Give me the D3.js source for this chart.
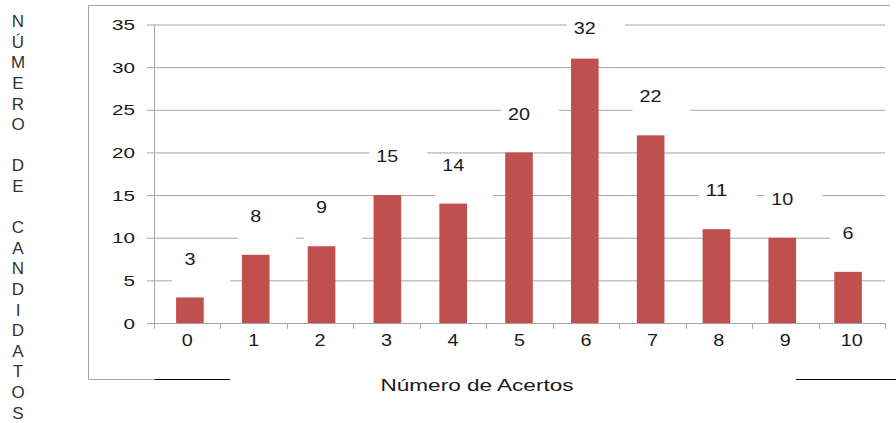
<!DOCTYPE html>
<html>
  <head>
    <meta charset="utf-8">
    <title>Número de Acertos</title>
    <style>
      body { margin: 0; background: #fff; }
      text { font-family: "Liberation Sans", Arial, sans-serif; fill: #1a1a1a; }
    </style>
  </head>
  <body>
    <div id="container"></div>
    <script src="https://d3js.org/d3.v7.min.js"></script>
    <script>

      // DATA
      var categories = ["0", "1", "2", "3", "4", "5", "6", "7", "8", "9", "10"];
      var counts = [3, 8, 9, 15, 14, 20, 31, 22, 11, 10, 6];
      var countLabels = ["3", "8", "9", "15", "14", "20", "32", "22", "11", "10", "6"];
      var yTicks = [0, 5, 10, 15, 20, 25, 30, 35];
      var yTitle = "NÚMERO DE CANDIDATOS";
      var xTitle = "Número de Acertos";

      // SIZES
      var W = 896, H = 423;
      var plot = { left: 154, right: 885, top: 24.5, bottom: 323 };

      var svg = d3.select("#container")
        .append("svg")
        .attr("width", W)
        .attr("height", H);

      svg.append("rect").attr("width", W).attr("height", H).attr("fill", "#fff");

      // outer frame (open on the right, broken bottom edge)
      var frame = svg.append("g").attr("fill", "none");
      frame.append("path")
        .attr("d", "M155,379.5 H88.5 V5.5 H890")
        .attr("stroke", "#a6a6a6");
      frame.append("line")
        .attr("x1", 155).attr("x2", 230).attr("y1", 379.5).attr("y2", 379.5)
        .attr("stroke", "#000");
      frame.append("line")
        .attr("x1", 796).attr("x2", 896).attr("y1", 379.5).attr("y2", 379.5)
        .attr("stroke", "#000");

      // SCALES
      // bars sit a little inside the tick grid, as in the original
      var x = d3.scaleBand()
        .domain(categories)
        .range([plot.left + 3, plot.right - 4])
        .paddingInner(0.58)
        .paddingOuter(0.29);

      // tick boundaries between categories
      var xTick = d3.scaleLinear()
        .domain([0, categories.length])
        .range([plot.left, plot.right]);

      var y = d3.scaleLinear()
        .domain([0, 35])
        .range([plot.bottom, plot.top]);

      // Y-AXIS with gridlines
      var yAxis = svg.append("g")
        .attr("transform", "translate(" + plot.left + ",0)")
        .call(d3.axisLeft(y)
          .tickValues(yTicks)
          .tickSize(-(plot.right - plot.left))
          .tickSizeOuter(0)
          .tickPadding(0));
      yAxis.select(".domain").remove();
      yAxis.selectAll(".tick line")
        .attr("x1", -7)
        .attr("stroke", "#a6a6a6");
      yAxis.selectAll(".tick text")
        .attr("x", -19)
        .attr("dy", "0.36em")
        .style("font-size", "14px")
        .attr("font-family", null)
        .attr("textLength", d => String(d).length * 11.5)
        .attr("lengthAdjust", "spacingAndGlyphs");

      // data label boxes (white, hide the gridlines behind the labels)
      function labelY(d) {
        return Math.max(y(d) - 39, y(35) + 3);
      }
      svg.append("g")
        .selectAll("rect")
        .data(counts)
        .enter()
        .append("rect")
        .attr("x", (d, i) => x(categories[i]) + x.bandwidth() / 2 - 18)
        .attr("y", d => labelY(d) - 10)
        .attr("width", 58)
        .attr("height", 42)
        .attr("fill", "#fff");

      // vertical axis line
      svg.append("line")
        .attr("x1", plot.left + 0.5).attr("x2", plot.left + 0.5)
        .attr("y1", plot.top).attr("y2", plot.bottom + 5)
        .attr("stroke", "#a6a6a6");

      // X-AXIS
      var xAxis = svg.append("g")
        .attr("transform", "translate(0," + plot.bottom + ")");
      xAxis.append("line")
        .attr("x1", plot.left).attr("x2", plot.right)
        .attr("y1", 0.5).attr("y2", 0.5)
        .attr("stroke", "#a6a6a6");
      xAxis.selectAll(".xtick")
        .data(d3.range(categories.length + 1))
        .enter()
        .append("line")
        .attr("class", "xtick")
        .attr("x1", i => Math.round(xTick(i)) + 0.5)
        .attr("x2", i => Math.round(xTick(i)) + 0.5)
        .attr("y1", 0)
        .attr("y2", 6)
        .attr("stroke", "#a6a6a6");
      xAxis.selectAll(".xlab")
        .data(categories)
        .enter()
        .append("text")
        .attr("class", "xlab")
        .attr("x", (d, i) => xTick(i + 0.5))
        .attr("y", 23)
        .attr("text-anchor", "middle")
        .style("font-size", "17px")
        .attr("textLength", d => d.length * 11)
        .attr("lengthAdjust", "spacingAndGlyphs")
        .text(d => d);

      // BARS
      svg.append("g")
        .selectAll("rect")
        .data(counts)
        .enter()
        .append("rect")
        .attr("x", (d, i) => x(categories[i]))
        .attr("y", d => y(d))
        .attr("width", x.bandwidth())
        .attr("height", d => y(0) - y(d))
        .attr("fill", "#c0504d");

      // DATA LABELS
      svg.append("g")
        .selectAll("text")
        .data(counts)
        .enter()
        .append("text")
        .attr("x", (d, i) => x(categories[i]) + x.bandwidth() / 2)
        .attr("y", d => labelY(d))
        .attr("dy", "0.36em")
        .attr("text-anchor", "middle")
        .style("font-size", "17px")
        .attr("textLength", (d, i) => countLabels[i].length * 11)
        .attr("lengthAdjust", "spacingAndGlyphs")
        .text((d, i) => countLabels[i]);

      // AXIS TITLES
      svg.append("text")
        .attr("x", 477)
        .attr("y", 391)
        .attr("text-anchor", "middle")
        .style("font-size", "16px")
        .attr("textLength", 193)
        .attr("lengthAdjust", "spacingAndGlyphs")
        .text(xTitle);

      svg.append("g")
        .selectAll("text")
        .data(yTitle.split(""))
        .enter()
        .append("text")
        .attr("x", 18)
        .attr("y", (d, i) => 21 + i * 20.6)
        .attr("dy", "0.36em")
        .attr("text-anchor", "middle")
        .style("font-size", "17px")
        .style("fill", "#333")
        .text(d => d);

    </script>
  </body>
</html>
